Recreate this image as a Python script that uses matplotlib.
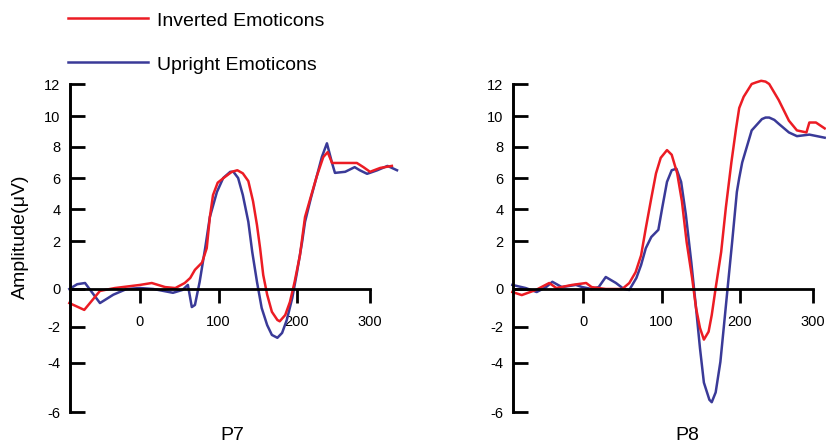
import numpy as np
import matplotlib
matplotlib.use("Agg")
import matplotlib.pyplot as plt
from matplotlib.lines import Line2D

plt.rcParams['font.family'] = ['Liberation Sans', 'DejaVu Sans']
plt.rcParams['axes.unicode_minus'] = False

RED = '#EC1C24'
BLUE = '#3A3A98'

# ---- data (time in ms, amplitude in uV) ----
p7_inv_t = [-90, -71, -51, -32, 0, 15, 32, 45, 57, 64, 70, 79, 85, 89, 93, 99, 108, 117, 124,
            131, 138, 144, 149, 153, 157, 162, 168, 175, 178, 185, 191, 197, 204, 211, 219,
            227, 236, 242, 248, 259, 282, 291, 300, 314, 330]
p7_inv_v = [-0.74, -1.1, -0.1, 0.04, 0.17, 0.25, 0.08, 0.04, 0.25, 0.46, 0.8, 1.1, 1.7, 3.5,
            4.9, 5.7, 6.06, 6.4, 6.5, 6.3, 5.8, 4.5, 3.0, 1.7, 0.58, -0.3, -1.2, -1.63, -1.7,
            -1.37, -0.68, 0.3, 1.4, 3.5, 4.8, 6.1, 7.35, 7.67, 6.97, 6.97, 6.97, 6.7, 6.4,
            6.65, 6.78]

p7_up_t = [-90, -80, -70, -51, -34, -17, 0, 17, 42, 54, 61, 66, 70, 76, 83, 89, 98, 106, 115,
           119, 125, 131, 138, 143, 149, 155, 162, 168, 175, 181, 187, 194, 200, 207, 211,
           219, 227, 234, 241, 248, 252, 266, 279, 286, 296, 310, 324, 337]
p7_up_v = [0.0, 0.2, 0.25, -0.74, -0.3, 0.0, 0.04, 0.0, -0.2, -0.05, 0.17, -0.95, -0.84, 0.3,
           1.7, 3.5, 5.1, 6.0, 6.4, 6.4, 6.0, 4.9, 3.2, 1.54, 0.3, -1.0, -1.9, -2.44, -2.6,
           -2.33, -1.63, -0.47, 0.7, 1.96, 3.2, 4.7, 6.1, 7.35, 8.24, 6.97, 6.33, 6.4, 6.7,
           6.5, 6.27, 6.5, 6.78, 6.5]

p8_inv_t = [-90, -78, -60, -43, -34, -14, 4, 11, 29, 50, 59, 67, 74, 80, 87, 93, 99, 107, 113,
            120, 126, 132, 139, 144, 149, 154, 160, 164, 169, 176, 182, 189, 195, 199, 205,
            216, 222, 229, 235, 240, 253, 267, 278, 291, 295, 304, 316]
p8_inv_v = [-0.16, -0.32, -0.05, 0.25, 0.04, 0.17, 0.25, 0.08, 0.0, 0.0, 0.25, 0.7, 1.4, 2.8,
            4.7, 6.3, 7.3, 7.8, 7.5, 6.3, 4.5, 1.96, 0.46, -1.0, -2.05, -2.7, -2.26, -1.37,
            0.04, 1.54, 4.1, 7.0, 9.2, 10.5, 11.2, 12.0, 12.1, 12.2, 12.15, 12.0, 11.0, 9.7,
            9.07, 8.94, 9.58, 9.58, 9.2]

p8_up_t = [-90, -73, -59, -47, -39, -27, -9, -1, 11, 20, 29, 42, 52, 59, 68, 74, 80, 87, 92,
           96, 101, 107, 113, 119, 125, 131, 138, 144, 149, 154, 161, 164, 169, 175, 180,
           185, 190, 196, 199, 203, 216, 230, 235, 240, 247, 253, 267, 278, 295, 316]
p8_up_v = [0.17, 0.04, -0.16, 0.08, 0.3, 0.08, 0.17, 0.08, 0.0, 0.08, 0.5, 0.25, 0.0, -0.05,
           0.46, 1.0, 1.7, 2.25, 2.5, 2.7, 4.1, 5.75, 6.5, 6.6, 5.75, 3.66, 1.1, -1.0, -3.17,
           -4.8, -5.5, -5.6, -5.2, -3.94, -1.74, 0.3, 1.96, 5.1, 6.0, 7.0, 9.07, 9.8, 9.9,
           9.9, 9.75, 9.5, 8.94, 8.7, 8.8, 8.6]

y_ticks = [-6, -4, -2, 0, 2, 4, 6, 8, 10, 12]
x_ticks = [0, 100, 200, 300]

# the printed axes are unevenly spaced, so map ticks to their pixel rows/cols
Y_ROWS = np.array([412, 363, 327, 289, 241, 209, 178, 147, 116, 84], float)
X_COLS = np.array([0, 78.5, 157, 230], float)


def piecewise(src, dst):
    src = np.asarray(src, float)
    dst = np.asarray(dst, float)
    s0 = (dst[1] - dst[0]) / (src[1] - src[0])
    s1 = (dst[-1] - dst[-2]) / (src[-1] - src[-2])

    def f(v):
        v = np.asarray(v, float)
        out = np.interp(v, src, dst)
        out = np.where(v < src[0], dst[0] + (v - src[0]) * s0, out)
        out = np.where(v > src[-1], dst[-1] + (v - src[-1]) * s1, out)
        return out
    return f


y_fwd = piecewise(y_ticks, -Y_ROWS)
y_inv = piecewise(-Y_ROWS, y_ticks)
x_fwd = piecewise(x_ticks, X_COLS)
x_inv = piecewise(X_COLS, x_ticks)

W, H = 826, 443
fig = plt.figure(figsize=(W / 100, H / 100), dpi=100)

panels = [
    (70, 'P7', p7_inv_t, p7_inv_v, p7_up_t, p7_up_v, 232),
    (513, 'P8', p8_inv_t, p8_inv_v, p8_up_t, p8_up_v, 687),
]

for left, name, it, iv, ut, uv, lab_x in panels:
    ax = fig.add_axes([left / W, 1 - 412 / H, 300 / W, 328 / H])
    ax.set_xscale('function', functions=(x_fwd, x_inv))
    ax.set_yscale('function', functions=(y_fwd, y_inv))
    ax.plot(ut, uv, color=BLUE, lw=1.8, clip_on=False, solid_joinstyle='round')
    ax.plot(it, iv, color=RED, lw=1.8, clip_on=False, solid_joinstyle='round')
    ax.set_xlim(float(x_inv(-70.0)), 300)
    ax.set_ylim(-6, 12)
    for s in ('top', 'right'):
        ax.spines[s].set_visible(False)
    ax.spines['bottom'].set_position(('data', 0))
    ax.spines['left'].set_linewidth(2.1)
    ax.spines['bottom'].set_linewidth(2.0)
    ax.set_yticks(y_ticks, labels=[str(t) for t in y_ticks])
    ax.set_xticks(x_ticks, labels=[str(t) for t in x_ticks])
    ax.minorticks_off()
    ax.tick_params(axis='y', direction='in', length=11, width=2, pad=7, labelsize=10.5)
    ax.tick_params(axis='x', direction='out', length=10, width=2, pad=9, labelsize=10.5)
    ax.patch.set_visible(False)
    fig.text(lab_x / W, 1 - 435 / H, name, ha='center', va='center', fontsize=14)

fig.text(20 / W, 1 - 237 / H, 'Amplitude(μV)', rotation=90, ha='center', va='center',
         fontsize=14)

# legend drawn by hand to sit where the original has it
for y, col, txt in [(18, RED, 'Inverted Emoticons'), (62, BLUE, 'Upright Emoticons')]:
    fig.add_artist(Line2D([68 / W, 148 / W], [1 - y / H, 1 - y / H], color=col, lw=1.8))
    fig.text(157 / W, 1 - (y + 3) / H, txt, ha='left', va='center', fontsize=14)

fig.savefig('out.png', dpi=100)
